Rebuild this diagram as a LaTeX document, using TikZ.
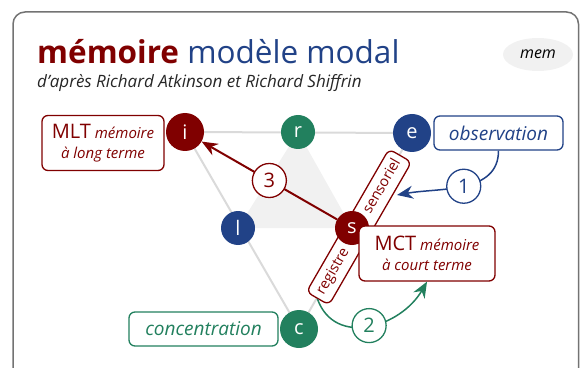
\documentclass[tikz,border=0pt]{standalone}
\usepackage{fontspec}
\setmainfont{Open Sans}
\usepackage{xcolor}
\usetikzlibrary{arrows.meta,shapes.geometric,backgrounds}
\definecolor{memred}{RGB}{128,0,0}
\definecolor{memblue}{RGB}{33,66,135}
\definecolor{memgreen}{RGB}{34,128,94}
\definecolor{lightline}{RGB}{218,218,218}
\definecolor{lightfill}{RGB}{241,241,241}
\definecolor{framegray}{RGB}{115,115,115}
\newcommand\fsz[2]{\fontsize{#1}{#2}\selectfont}

\begin{document}
\begin{tikzpicture}[x=1pt, y=1pt, >={Stealth[length=16pt,width=13pt]},
  vertex/.style={circle, fill=#1, text=white, inner sep=0pt, font=\fsz{20}{20}},
  corner/.style={minimum size=38pt},
  mid/.style={minimum size=34pt},
  labelbox/.style={draw=#1, text=#1, fill=white, rounded corners=6pt, line width=1.3pt, align=center, inner sep=0pt},
  num/.style={circle, draw=#1, text=#1, fill=white, line width=1.3pt, minimum size=34pt, inner sep=0pt, font=\fsz{20}{20}}]
  \clip (0,0) rectangle (580,367);
  \draw[framegray, line width=1.5pt, rounded corners=12pt] (13,-30) -- (13,355) -- (578.5,355) -- (578.5,-30);

  \node[anchor=base west, inner sep=0pt, font=\fsz{31.5}{31.5}] (title) at (37,303) {\textcolor{memred}{\bfseries mémoire} \textcolor{memblue}{modèle modal}};
  \node[anchor=base west, inner sep=0pt, font=\fsz{17}{17}\itshape, text=black!85] (sub) at (37,279) {d’après Richard Atkinson et Richard Shiffrin};
  \node[ellipse, fill=lightfill, minimum width=70pt, minimum height=33pt, inner sep=0pt, font=\fsz{16}{16}\itshape] (tag) at (538,312.5) {mem};

  \node[vertex=memred, corner] (i) at (185,235) {i};
  \node[vertex=memgreen, mid] (r) at (298,235) {r};
  \node[vertex=memblue, corner] (e) at (412,234) {e};
  \node[vertex=memblue, mid] (l) at (238,139) {l};
  \node[labelbox=memred, rotate=60, minimum width=165pt, minimum height=26pt, font=\fsz{14.5}{14.5}] (reg) at (359,140) {registre\hspace{42pt}sensoriel};
  \node[vertex=memred, mid] (s) at (352,139) {s};
  \node[vertex=memgreen, corner] (c) at (299,38) {c};

  \begin{scope}[on background layer]
    \fill[lightfill] (r.center) -- (l.center) -- (s.center) -- cycle;
    \draw[lightline, line width=2pt] (i.center) -- (e.center) -- (c.center) -- cycle;
  \end{scope}

  \node[labelbox=memred, minimum width=122pt, minimum height=55pt, font=\fsz{15}{20}\itshape] (mlt) at (103,224) {{\upshape\fsz{20}{20}MLT} mémoire\\à long terme};
  \node[labelbox=memred, minimum width=136pt, minimum height=55pt, font=\fsz{15}{20}\itshape] (mct) at (427,113.5) {{\upshape\fsz{20}{20}MCT} mémoire\\à court terme};
  \node[labelbox=memblue, minimum width=129pt, minimum height=34pt, font=\fsz{19}{19}\itshape] (obs) at (498.5,234) {observation};
  \node[labelbox=memgreen, minimum width=149pt, minimum height=34pt, font=\fsz{19}{19}\itshape] (conc) at (203.5,38) {concentration};
  \coordinate (in1) at (397,172);

  \draw[->, memred, line width=2pt] (s) -- node[num=memred] {3} (i);
  \draw[->, memblue, line width=1.5pt] (obs.south) to[out=-90, in=10] node[num=memblue] {1} (in1);
  \draw[->, memgreen, line width=1.5pt] (reg.west) to[out=-70, in=-120, looseness=1.2] node[num=memgreen] {2} (mct.south);
\end{tikzpicture}
\end{document}
